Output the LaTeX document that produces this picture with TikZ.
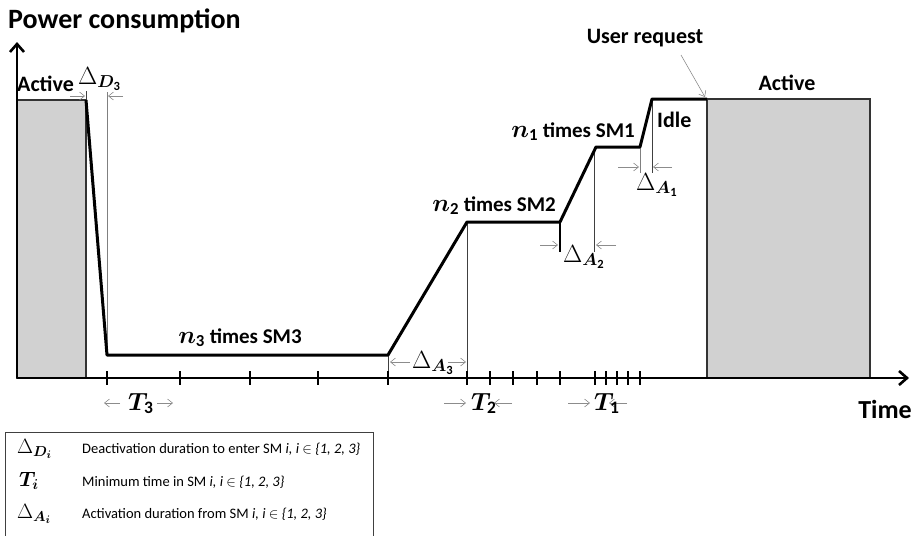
\documentclass[tikz,border=0pt]{standalone}
\usepackage{amsmath,bm}
\usepackage{fontspec}
\setmainfont{Carlito}
\usetikzlibrary{arrows.meta}
\newcommand{\nsym}[1]{{\fontsize{24}{26}\selectfont$\bm{n}_{\mathbf{#1}}$}}
\begin{document}
\begin{tikzpicture}[x=1pt,y=-1pt,
  axis/.style={line width=2.6pt,-{Straight Barb[length=8pt,width=14pt]}},
  powercurve/.style={line width=3pt,line join=round},
  statebox/.style={draw=black!80,line width=1.4pt,fill=black!18},
  guide/.style={black!75,line width=0.8pt},
  lightguide/.style={black!50,line width=0.8pt},
  dimarrow/.style={black!45,line width=0.6pt,-{Straight Barb[length=5pt,width=8pt]}},
  axtick/.style={line width=1.8pt},
  lbl/.style={inner sep=0pt,font=\bfseries\fontsize{22}{26}\selectfont},
  smlbl/.style={inner sep=0pt,font=\bfseries\fontsize{21}{24}\selectfont},
  mathlbl/.style={inner sep=0pt,font=\fontsize{25}{28}\selectfont},
  leg/.style={inner sep=0pt,font=\fontsize{14.5}{17}\selectfont},
  legsym/.style={inner sep=0pt,font=\fontsize{21}{24}\selectfont}]
\useasboundingbox (0,0) rectangle (914,536);

% key points
\coordinate (orig) at (17,378);
\coordinate (ytip) at (17,42);
\coordinate (xtip) at (909,378);
\coordinate (p0) at (86,100);
\coordinate (p1) at (107,355);
\coordinate (p2) at (388,355);
\coordinate (p3) at (467,222);
\coordinate (p4) at (560,222);
\coordinate (p5) at (596,147);
\coordinate (p6) at (640,147);
\coordinate (p7) at (652,99);
\coordinate (p8) at (707,99);

% state boxes
\path[statebox] (17,100) rectangle (86,378);
\path[statebox] (707,99) rectangle (870,378);

% guides
\coordinate (g1a) at (86,91);
\draw[guide] (g1a) -- (p0);
\coordinate (g2a) at (107,92);
\draw[lightguide] (g2a) -- (p1);
\coordinate (g3b) at (388,378);
\draw[guide] (p2) -- (g3b);
\coordinate (g4a) at (467,222);
\coordinate (g4b) at (467,378);
\draw[guide] (g4a) -- (g4b);
\coordinate (g5b) at (560,252);
\draw[line width=1.8pt] (p4) -- (g5b);
\coordinate (g6a) at (594,147);
\coordinate (g6b) at (594,252);
\draw[guide] (g6a) -- (g6b);
\coordinate (g7b) at (640,173);
\draw[lightguide] (p6) -- (g7b);
\coordinate (g8b) at (652,173);
\draw[guide] (p7) -- (g8b);

% power curve
\draw[powercurve] (p0) -- (p1) -- (p2) -- (p3) -- (p4) -- (p5) -- (p6) -- (p7) -- (p8);

% axes
\draw[axis] (orig) -- (ytip);
\draw[axis] (orig) -- (xtip);

% ticks
\foreach \tx [count=\i] in {107,180,250,318,388,467,490,513,537,560,595,606,617,628,640}{
  \coordinate (tk\i a) at (\tx,371);
  \coordinate (tk\i b) at (\tx,385);
  \draw[axtick] (tk\i a) -- (tk\i b);
}

% dimension arrows
\coordinate (d3a) at (70,96);  \coordinate (d3b) at (85,96);
\coordinate (d3c) at (123,96); \coordinate (d3d) at (108,96);
\draw[dimarrow] (d3a) -- (d3b);
\draw[dimarrow] (d3c) -- (d3d);
\coordinate (a3a) at (410,362); \coordinate (a3b) at (390,362);
\coordinate (a3c) at (448,362); \coordinate (a3d) at (466,362);
\draw[dimarrow] (a3a) -- (a3b);
\draw[dimarrow] (a3c) -- (a3d);
\coordinate (a2a) at (540,245); \coordinate (a2b) at (558,245);
\coordinate (a2c) at (616,245); \coordinate (a2d) at (596,245);
\draw[dimarrow] (a2a) -- (a2b);
\draw[dimarrow] (a2c) -- (a2d);
\coordinate (a1a) at (618,167); \coordinate (a1b) at (639,167);
\coordinate (a1c) at (672,167); \coordinate (a1d) at (653,167);
\draw[dimarrow] (a1a) -- (a1b);
\draw[dimarrow] (a1c) -- (a1d);
\coordinate (t3a) at (120,403); \coordinate (t3b) at (104,403);
\coordinate (t3c) at (157,403); \coordinate (t3d) at (173,403);
\draw[dimarrow] (t3a) -- (t3b);
\draw[dimarrow] (t3c) -- (t3d);
\coordinate (t2a) at (444,403); \coordinate (t2b) at (466,403);
\coordinate (t2c) at (512,403); \coordinate (t2d) at (494,403);
\draw[dimarrow] (t2a) -- (t2b);
\draw[dimarrow] (t2c) -- (t2d);
\coordinate (t1a) at (568,403); \coordinate (t1b) at (590,403);
\coordinate (t1c) at (627,403); \coordinate (t1d) at (609,403);
\draw[dimarrow] (t1a) -- (t1b);
\draw[dimarrow] (t1c) -- (t1d);
\coordinate (ura) at (681,55); \coordinate (urb) at (705,97);
\draw[dimarrow] (ura) -- (urb);

% labels
\node[inner sep=0pt,anchor=base west,font=\bfseries\fontsize{28}{32}\selectfont] (ylab) at (8,28) {Power consumption};
\node[inner sep=0pt,anchor=base east,font=\bfseries\fontsize{26}{30}\selectfont] (xlab) at (912,418) {Time};
\node[lbl,anchor=base west] (act1) at (17,91) {Active};
\node[mathlbl,anchor=base west] (dd3) at (78,84) {$\Delta_{\bm{D}_{\mathbf{3}}}$};
\node[lbl,anchor=base] (ureq) at (645,43) {User request};
\node[lbl,anchor=base] (act2) at (787,90) {Active};
\node[lbl,anchor=base west] (idle) at (657,127) {Idle};
\node[smlbl,anchor=base east] (sm1) at (635,137) {\nsym{1} times SM1};
\node[smlbl,anchor=base east] (sm2) at (556,211) {\nsym{2} times SM2};
\node[smlbl,anchor=base] (sm3) at (240,343) {\nsym{3} times SM3};
\node[mathlbl,anchor=base west] (da3) at (412,368) {$\Delta_{\bm{A}_{\mathbf{3}}}$};
\node[mathlbl,anchor=base west] (da2) at (563,262) {$\Delta_{\bm{A}_{\mathbf{2}}}$};
\node[mathlbl,anchor=base west] (da1) at (636,190) {$\Delta_{\bm{A}_{\mathbf{1}}}$};
\node[mathlbl,anchor=base west] (lt3) at (128,410) {$\bm{T}_{\mathbf{3}}$};
\node[mathlbl,anchor=base west] (lt2) at (471,410) {$\bm{T}_{\mathbf{2}}$};
\node[mathlbl,anchor=base west] (lt1) at (594,410) {$\bm{T}_{\mathbf{1}}$};

% legend
\draw[black!75,line width=1pt] (5,545) coordinate (lgbl) |- (373,432) coordinate (lgtr) -- (373,545);
\node[legsym,anchor=base west] (ls1) at (17,453) {$\Delta_{\bm{D}_{\bm{i}}}$};
\node[legsym,anchor=base west] (ls2) at (19,486) {$\bm{T}_{\bm{i}}$};
\node[legsym,anchor=base west] (ls3) at (17,518) {$\Delta_{\bm{A}_{\bm{i}}}$};
\node[leg,anchor=base west] (lt1x) at (82,453) {Deactivation duration to enter SM \textit{i, i} $\in$ \textit{\{1, 2, 3\}}};
\node[leg,anchor=base west] (lt2x) at (82,486) {Minimum time in SM \textit{i, i} $\in$ \textit{\{1, 2, 3\}}};
\node[leg,anchor=base west] (lt3x) at (82,518) {Activation duration from SM \textit{i, i} $\in$ \textit{\{1, 2, 3\}}};
\end{tikzpicture}
\end{document}
